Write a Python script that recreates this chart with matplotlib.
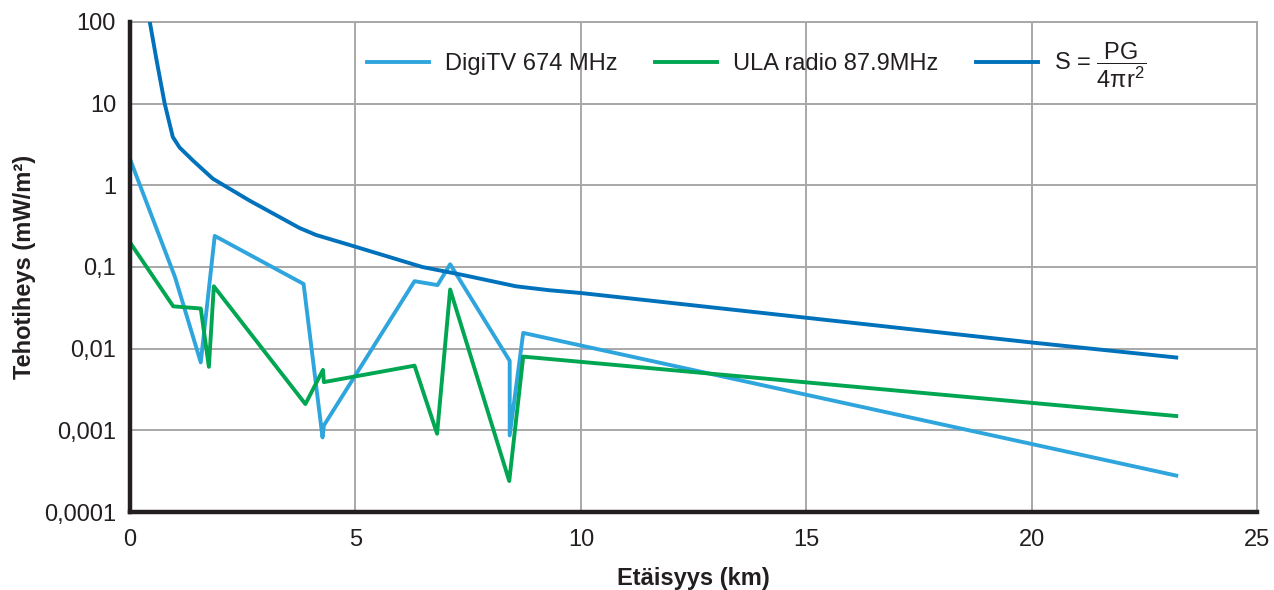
import numpy as np
import matplotlib.pyplot as plt

plt.rcParams['font.family'] = ['Liberation Sans', 'DejaVu Sans']
plt.rcParams['mathtext.fontset'] = 'custom'
plt.rcParams['mathtext.rm'] = 'Liberation Sans'
plt.rcParams['mathtext.it'] = 'Liberation Sans'

# DigiTV 674 MHz
tv_x = [0.0, 1.0, 1.57, 1.88, 3.85, 4.27, 4.30, 6.31, 6.82, 7.10, 8.42, 8.42, 8.72, 23.2]
tv_y = [2.1, 0.075, 0.0068, 0.24, 0.062, 0.00082, 0.00115, 0.067, 0.060, 0.108, 0.0071, 0.00087, 0.0156, 0.00028]

# ULA radio 87.9 MHz
ula_x = [0.0, 0.96, 1.57, 1.75, 1.86, 3.89, 4.28, 4.30, 6.31, 6.81, 7.10, 8.41, 8.72, 23.2]
ula_y = [0.2, 0.033, 0.031, 0.006, 0.058, 0.0021, 0.0055, 0.0039, 0.0062, 0.00091, 0.053, 0.00024, 0.008, 0.0015]

# S = PG / (4 pi r^2)
s_x = [0.44, 0.59, 0.77, 0.95, 1.1, 1.4, 1.84, 2.65, 3.76, 4.13, 4.87, 6.48, 7.37, 8.56, 9.29, 10.0, 20.0, 23.2]
s_y = [100, 34, 10, 3.9, 2.9, 2.0, 1.2, 0.65, 0.30, 0.246, 0.186, 0.10, 0.08, 0.058, 0.052, 0.048, 0.0119, 0.0078]

yticks = [1e2, 1e1, 1, 0.1, 0.01, 0.001, 0.0001]
ylabels = ['100', '10', '1', '0,1', '0,01', '0,001', '0,0001']
xticks = [0, 5, 10, 15, 20, 25]

fig = plt.figure(figsize=(12.74, 5.90), dpi=100)
ax = fig.add_axes([0.102, 0.132, 0.885, 0.831])

ax.plot(tv_x, tv_y, color='#2fa5dd', lw=2.8, label='DigiTV 674 MHz', zorder=3)
ax.plot(ula_x, ula_y, color='#00a651', lw=2.8, label='ULA radio 87.9MHz', zorder=3)
ax.plot(s_x, s_y, color='#0072bc', lw=2.8, label=r'S = $\dfrac{\mathregular{PG}}{\mathregular{4\pi r^2}}$', zorder=4)

ax.set_yscale('log')
ax.set_ylim(1e-4, 1e2)
ax.set_xlim(0, 25)
ax.set_yticks(yticks)
ax.set_yticklabels(ylabels)
ax.minorticks_off()
ax.set_xticks(xticks)

ax.grid(True, color='#a8a8a8', lw=1.4)
ax.set_axisbelow(True)
for s in ['top', 'right']:
    ax.spines[s].set_color('#a8a8a8')
    ax.spines[s].set_linewidth(1.4)
for s in ['left', 'bottom']:
    ax.spines[s].set_color('#231f20')
    ax.spines[s].set_linewidth(3.2)
    ax.spines[s].set_zorder(5)

ax.tick_params(length=0, labelsize=17, colors='#231f20', pad=10)
ax.tick_params(axis='x', pad=12)

ax.set_xlabel('Etäisyys (km)', fontsize=17, fontweight='bold', color='#231f20', labelpad=12)
ax.set_ylabel('Tehotiheys (mW/m²)', fontsize=17, fontweight='bold', color='#231f20', labelpad=6)

ax.legend(loc='center', bbox_to_anchor=(0.556, 0.912), ncol=3, frameon=False,
          fontsize=17, handlelength=2.6, handletextpad=0.7, columnspacing=1.6,
          labelcolor='#231f20')

fig.savefig('out.png', dpi=100)
